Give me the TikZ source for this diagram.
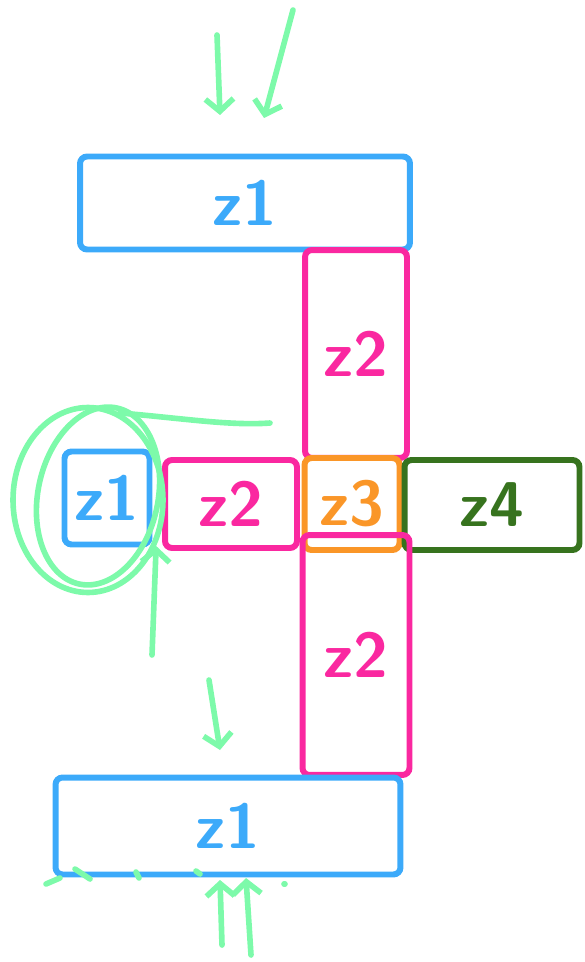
\documentclass[tikz,border=0pt]{standalone}
\usetikzlibrary{arrows.meta,shapes.geometric}
\definecolor{zblue}{RGB}{60,170,250}
\definecolor{zpink}{RGB}{250,40,160}
\definecolor{zorange}{RGB}{250,150,40}
\definecolor{zgreen}{RGB}{55,115,30}
\definecolor{mint}{RGB}{125,250,170}
\tikzset{
  box/.style={draw, line width=3.4pt, rounded corners=4pt, inner sep=0pt,
    font=\sffamily\bfseries\fontsize{36}{36}\selectfont},
  hint/.style={draw=mint, line width=3.2pt, line cap=round, line join=round},
  hintarrow/.style={hint, -{Straight Barb[length=7pt,width=16pt]}},
}
\begin{document}
\begin{tikzpicture}[x=0.02cm,y=-0.02cm]
\useasboundingbox (0,0) rectangle (584,962);
% boxes
\node[box,zblue,minimum width=6.6cm,minimum height=1.86cm] (top) at (245,203) {z1};
\node[box,zpink,minimum width=2.04cm,minimum height=4.16cm] (upper) at (356,354) {z2};
\node[box,zblue,minimum width=1.7cm,minimum height=1.86cm] (left) at (107,498) {z1};
\node[box,zpink,minimum width=2.64cm,minimum height=1.76cm] (mid) at (231,504) {z2};
\node[box,zorange,minimum width=1.9cm,minimum height=1.84cm] (cross) at (352,504) {z3};
\node[box,zgreen,minimum width=3.5cm,minimum height=1.8cm] (right) at (492,505) {z4};
\node[box,zpink,minimum width=2.14cm,minimum height=4.8cm] (lower) at (356,655) {z2};
\node[box,zblue,minimum width=6.9cm,minimum height=1.94cm] (bottom) at (228,826) {z1};
% ring round the left box
\node[hint,ellipse,minimum width=3cm,minimum height=3.7cm] (ring) at (88,500) {};
\draw[hint] (ring.center) ++(10,-4) ellipse [x radius=60, y radius=90, rotate=-12];
\coordinate (ringend) at (270,423);
\draw[hint] (ring.70) .. controls (180,418) and (230,426) .. (ringend);
% arrows
\coordinate (a1) at (217,35);
\coordinate (a1tip) at (220,115);
\coordinate (a2) at (293,10);
\coordinate (a2tip) at (264,118);
\draw[hintarrow] (a1) -- (a1tip);
\draw[hintarrow] (a2) -- (a2tip);
\coordinate (up) at (152,655);
\draw[hintarrow] (up) -- (ring.-34);
\coordinate (b1) at (209,680);
\coordinate (b1tip) at (220,750);
\draw[hintarrow] (b1) -- (b1tip);
\coordinate (c1) at (222,945);
\coordinate (c2) at (251,955);
\draw[hintarrow] (c1) -- (220,880);
\draw[hintarrow] (c2) -- (246,878);
% dashes under the bottom box
\foreach \ax/\ay/\bx/\by in {46/884/60/878, 75/869/90/879, 136/872/139/878, 196/871/200/874, 284/884/285/884}
  \draw[hint] (\ax,\ay) -- (\bx,\by);
\end{tikzpicture}
\end{document}
